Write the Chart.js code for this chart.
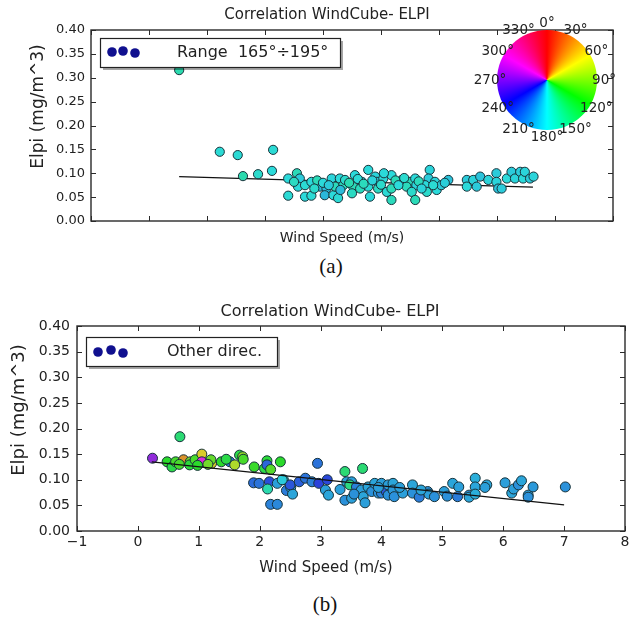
<!DOCTYPE html>
<html>
<head>
<meta charset="utf-8">
<script src="https://cdn.jsdelivr.net/npm/chart.js@4.4.0/dist/chart.umd.min.js"></script>
<style>
  html, body { margin: 0; padding: 0; background: #fff; }
  #wrap { position: relative; width: 631px; height: 619px; overflow: hidden; }
  canvas { position: absolute; left: 0; }
  #cA { top: 0; }
  #cB { top: 290px; }
  .cap { position: absolute; width: 60px; text-align: center; line-height: 24px;
         font-family: "Liberation Serif", "DejaVu Serif", serif; font-size: 21px; color: #111; }
</style>
</head>
<body>
<div id="wrap">
  <canvas id="cA" width="631" height="250"></canvas>
  <div class="cap" style="left:301px; top:254px;">(a)</div>
  <canvas id="cB" width="631" height="300"></canvas>
  <div class="cap" style="left:295px; top:592px;">(b)</div>
</div>
<script>
// ---- text ----
const titleText = 'Correlation WindCube- ELPI';
const xTitleText = 'Wind Speed (m/s)';
const yTitleText = 'Elpi (mg/m^3)';
const yTickLabels = ['0.00', '0.05', '0.10', '0.15', '0.20', '0.25', '0.30', '0.35', '0.40'];
const xTickLabels = ['\u22121', '0', '1', '2', '3', '4', '5', '6', '7', '8'];
const compassLabels = ['0°', '30°', '60°', '90°', '120°', '150°', '180°', '210°', '240°', '270°', '300°', '330°'];
const legendTextA = 'Range  165°÷195°';
const legendTextB = 'Other direc.';

// ---- panel (a): wind from 165°-195° ----
const speedA = [0.52, 1.22, 1.53, 1.62, 1.88, 2.12, 2.14, 2.40, 2.55, 2.60, 2.57, 2.69, 2.80, 2.40, 2.69, 2.80,
  2.95, 3.06, 3.03, 3.15, 3.18, 3.29, 3.21, 3.26, 3.35, 3.38, 3.52, 3.55, 3.67, 3.64, 3.78, 3.78, 3.81, 3.90,
  3.93, 3.95, 4.04, 4.10, 4.18, 4.18, 4.18, 4.84, 4.82, 4.36, 4.50, 4.59, 4.61, 4.44, 4.53, 4.59, 4.76, 4.79,
  4.93, 4.96, 5.04, 5.16, 5.48, 5.48, 5.59, 5.65, 5.71, 5.85, 5.99, 5.99, 6.02, 6.08, 6.17, 6.25, 6.31, 6.40,
  6.45, 6.48, 6.57, 6.63, 2.50, 2.90, 3.00, 3.10, 3.45, 3.60, 3.70, 3.85, 4.00, 4.25, 4.30, 4.40, 4.65, 4.70,
  4.90, 5.10, 2.85, 3.30, 3.50, 4.05];
const elpiA = [0.316, 0.145, 0.138, 0.094, 0.098, 0.105, 0.149, 0.089, 0.100, 0.089, 0.072, 0.075, 0.082, 0.053, 0.051, 0.053,
  0.072, 0.068, 0.054, 0.089, 0.054, 0.089, 0.072, 0.048, 0.075, 0.086, 0.072, 0.096, 0.082, 0.068, 0.107, 0.072, 0.051, 0.093,
  0.082, 0.068, 0.089, 0.061, 0.096, 0.068, 0.044, 0.107, 0.089, 0.086, 0.082, 0.089, 0.075, 0.072, 0.061, 0.044, 0.075, 0.061,
  0.082, 0.065, 0.075, 0.086, 0.086, 0.072, 0.086, 0.072, 0.093, 0.086, 0.100, 0.082, 0.068, 0.068, 0.089, 0.103, 0.089, 0.103,
  0.089, 0.103, 0.089, 0.093, 0.082, 0.085, 0.080, 0.075, 0.080, 0.088, 0.078, 0.085, 0.076, 0.085, 0.075, 0.090, 0.083, 0.068,
  0.075, 0.080, 0.068, 0.065, 0.058, 0.100];
const dirA = [165, 178, 178, 165, 175, 180, 178, 180, 168, 185, 180, 178, 180, 178, 180, 178,
  192, 190, 192, 182, 180, 180, 170, 178, 168, 175, 168, 180, 182, 170, 180, 178, 180, 182,
  185, 172, 180, 178, 180, 168, 170, 182, 185, 175, 168, 180, 182, 170, 175, 168, 180, 175,
  182, 180, 185, 188, 185, 180, 182, 185, 188, 182, 185, 182, 188, 185, 180, 185, 182, 185,
  180, 182, 185, 182, 172, 168, 180, 185, 166, 178, 170, 182, 175, 168, 180, 176, 170, 182,
  178, 184, 175, 190, 172, 180];
const fitSpeedA = [0.52, 6.62];
const fitElpiA = [0.093, 0.071];

// ---- panel (b): all other directions ----
const speedB = [0.24, 0.69, 0.48, 0.56, 0.62, 0.75, 0.86, 0.85, 0.94, 1.05, 1.05, 1.21, 1.20, 1.37, 1.51, 1.59,
  1.67, 1.72, 1.73, 1.91, 2.08, 2.12, 2.12, 2.18, 2.34, 1.90, 1.99, 2.16, 2.13, 2.29, 2.39, 2.44, 2.51, 2.54,
  2.50, 2.18, 2.29, 2.65, 2.75, 2.86, 2.95, 2.97, 3.11, 3.08, 3.13, 3.32, 3.40, 3.69, 3.43, 3.51, 3.48, 3.40,
  3.51, 3.59, 3.67, 3.70, 3.73, 3.78, 3.84, 3.89, 3.95, 4.00, 4.00, 4.08, 4.11, 4.11, 4.19, 4.19, 4.21, 4.35,
  4.51, 4.51, 4.62, 4.76, 4.78, 4.87, 5.03, 5.08, 5.17, 5.27, 5.25, 5.44, 5.44, 5.54, 5.54, 5.54, 5.73, 5.70,
  6.03, 6.14, 6.17, 6.25, 6.30, 6.41, 6.49, 6.41, 7.02, 3.55, 3.95, 4.30, 4.65, 0.98, 1.15, 0.68, 1.45, 2.37];
const elpiB = [0.142, 0.184, 0.135, 0.125, 0.135, 0.139, 0.135, 0.129, 0.139, 0.150, 0.135, 0.132, 0.139, 0.135, 0.135, 0.129,
  0.148, 0.145, 0.140, 0.125, 0.122, 0.137, 0.129, 0.120, 0.135, 0.094, 0.093, 0.096, 0.082, 0.093, 0.100, 0.079, 0.085, 0.072,
  0.090, 0.052, 0.052, 0.096, 0.103, 0.096, 0.132, 0.093, 0.100, 0.080, 0.070, 0.081, 0.116, 0.122, 0.096, 0.096, 0.090, 0.060,
  0.064, 0.086, 0.080, 0.067, 0.055, 0.086, 0.077, 0.093, 0.074, 0.093, 0.074, 0.077, 0.090, 0.070, 0.093, 0.080, 0.067, 0.074,
  0.090, 0.074, 0.066, 0.077, 0.072, 0.067, 0.077, 0.068, 0.093, 0.086, 0.067, 0.070, 0.066, 0.103, 0.086, 0.072, 0.090, 0.085,
  0.094, 0.074, 0.082, 0.090, 0.098, 0.070, 0.086, 0.066, 0.086, 0.072, 0.085, 0.085, 0.080, 0.128, 0.130, 0.130, 0.140, 0.100];
const dirB = [275, 145, 120, 130, 110, 35, 95, 125, 110, 55, 300, 55, 100, 120, 212, 75,
  130, 85, 110, 115, 130, 125, 220, 105, 120, 218, 215, 228, 165, 200, 190, 212, 198, 198,
  225, 210, 208, 222, 215, 210, 215, 232, 230, 200, 198, 200, 145, 145, 198, 200, 150, 205,
  200, 210, 200, 198, 200, 198, 205, 198, 205, 200, 210, 225, 200, 205, 198, 202, 205, 200,
  198, 205, 212, 205, 200, 205, 200, 205, 198, 200, 212, 205, 198, 195, 198, 195, 198, 200,
  200, 198, 200, 205, 198, 200, 202, 205, 205, 205, 200, 200, 198, 120, 95, 110, 130, 185];
const fitSpeedB = [0.23, 7.0];
const fitElpiB = [0.135, 0.051];

// ---- helpers ----
const FONT = '"DejaVu Sans", "Liberation Sans", sans-serif';
const dirColor = d => `hsl(${d}, 70%, 51%)`;
const toPoints = (xs, ys) => xs.map((x, i) => ({ x, y: ys[i] }));

// frame, inward ticks, titles, compass wheel and legend box
const panelPlugin = {
  id: 'panel',
  afterDraw(chart, args, o) {
    const ctx = chart.ctx, a = chart.chartArea;
    const xs = chart.scales.x, ys = chart.scales.y;
    ctx.save();

    // axes frame
    ctx.strokeStyle = '#2a2a2a';
    ctx.lineWidth = 1.4;
    ctx.strokeRect(a.left, a.top, a.right - a.left, a.bottom - a.top);
    ctx.beginPath();
    xs.ticks.forEach(t => {
      const p = Math.round(xs.getPixelForValue(t.value)) + 0.5;
      ctx.moveTo(p, a.bottom); ctx.lineTo(p, a.bottom - 5);
      ctx.moveTo(p, a.top); ctx.lineTo(p, a.top + 5);
    });
    ys.ticks.forEach(t => {
      const p = Math.round(ys.getPixelForValue(t.value)) + 0.5;
      ctx.moveTo(a.left, p); ctx.lineTo(a.left + 5, p);
      ctx.moveTo(a.right, p); ctx.lineTo(a.right - 5, p);
    });
    ctx.lineWidth = 1;
    ctx.stroke();

    // compass colour wheel
    if (o.wheel) {
      const w = o.wheel;
      const cx = a.right + w.dx, cy = a.top + w.dy;
      if (ctx.createConicGradient) {
        const g = ctx.createConicGradient(-Math.PI / 2, cx, cy);
        for (let h = 0; h <= 360; h += 10) g.addColorStop(h / 360, `hsl(${h}, 100%, 50%)`);
        ctx.fillStyle = g;
        ctx.beginPath(); ctx.arc(cx, cy, w.r, 0, 2 * Math.PI); ctx.fill();
      } else {
        for (let h = 0; h < 360; h++) {
          const s = (h - 90.6) * Math.PI / 180, e = (h - 88.4) * Math.PI / 180;
          ctx.fillStyle = `hsl(${h}, 100%, 50%)`;
          ctx.beginPath(); ctx.moveTo(cx, cy); ctx.arc(cx, cy, w.r, s, e); ctx.closePath(); ctx.fill();
        }
      }
      ctx.fillStyle = '#222';
      ctx.font = `13.5px ${FONT}`;
      ctx.textAlign = 'center';
      ctx.textBaseline = 'middle';
      compassLabels.forEach((t, i) => {
        const ang = (i * 30 - 90) * Math.PI / 180;
        ctx.fillText(t, cx + w.lr * Math.cos(ang), cy + w.lr * Math.sin(ang));
      });
    }

    // titles
    ctx.fillStyle = '#222';
    ctx.textAlign = 'center';
    ctx.textBaseline = 'middle';
    ctx.font = `${o.title.size}px ${FONT}`;
    ctx.fillText(titleText, o.title.x, o.title.y);
    ctx.font = `${o.xTitle.size}px ${FONT}`;
    ctx.fillText(xTitleText, o.xTitle.x, o.xTitle.y);
    ctx.save();
    ctx.translate(o.yTitle.x, o.yTitle.y);
    ctx.rotate(-Math.PI / 2);
    ctx.font = `${o.yTitle.size}px ${FONT}`;
    ctx.fillText(yTitleText, 0, 0);
    ctx.restore();

    // legend box with three scatter markers
    const L = o.legend;
    const bx = a.left + L.dx, by = a.top + L.dy;
    ctx.fillStyle = 'rgba(0,0,0,0.35)';
    ctx.fillRect(bx + 3, by + 3, L.w, L.h);
    ctx.fillStyle = '#fff';
    ctx.fillRect(bx, by, L.w, L.h);
    ctx.strokeStyle = '#222';
    ctx.lineWidth = 1.2;
    ctx.strokeRect(bx + 0.5, by + 0.5, L.w, L.h);
    ctx.fillStyle = '#10108f';
    L.dots.forEach(([dx, dy]) => {
      ctx.beginPath(); ctx.arc(bx + dx, by + dy, 4.8, 0, 2 * Math.PI); ctx.fill();
    });
    ctx.fillStyle = '#222';
    ctx.font = `16px ${FONT}`;
    ctx.textAlign = 'left';
    ctx.fillText(L.text, bx + L.tx, by + L.h / 2 + 0.5);

    ctx.restore();
  }
};

function makeChart(id, cfg) {
  const scatter = {
    type: 'scatter',
    data: toPoints(cfg.speed, cfg.elpi),
    pointRadius: cfg.radius,
    pointHoverRadius: cfg.radius,
    pointBackgroundColor: cfg.dir.map(dirColor),
    pointBorderColor: '#17323a',
    pointBorderWidth: 1,
    order: cfg.lineOnTop ? 1 : 0
  };
  const fit = {
    type: 'line',
    data: toPoints(cfg.fitSpeed, cfg.fitElpi),
    borderColor: '#111',
    borderWidth: 1.3,
    pointRadius: 0,
    fill: false,
    order: cfg.lineOnTop ? 0 : 1
  };
  return new Chart(document.getElementById(id), {
    type: 'scatter',
    data: { datasets: [scatter, fit] },
    options: {
      responsive: false,
      animation: false,
      devicePixelRatio: 1,
      layout: { padding: { left: 0, right: cfg.padRight, top: cfg.padTop, bottom: 0 } },
      plugins: {
        legend: { display: false },
        tooltip: { enabled: false },
        title: { display: false },
        panel: cfg.panel
      },
      scales: {
        x: {
          type: 'linear', min: -1, max: 8,
          ticks: {
            stepSize: 1,
            display: cfg.xLabels,
            callback: (v, i) => xTickLabels[i],
            font: { family: FONT, size: cfg.tickSize },
            color: '#222',
            padding: 3,
            maxRotation: 0,
            autoSkip: false
          },
          grid: { display: false, drawTicks: false },
          border: { display: false },
          afterFit(s) { s.height = cfg.xHeight; s.paddingLeft = 0; s.paddingRight = 0; }
        },
        y: {
          type: 'linear', min: 0, max: 0.4,
          ticks: {
            stepSize: 0.05,
            callback: (v, i) => yTickLabels[i],
            font: { family: FONT, size: cfg.tickSize },
            color: '#222',
            padding: cfg.yPad,
            autoSkip: false
          },
          grid: { display: false, drawTicks: false },
          border: { display: false },
          afterFit(s) { s.width = cfg.yWidth; s.paddingTop = 0; s.paddingBottom = 0; }
        }
      }
    },
    plugins: [panelPlugin]
  });
}

makeChart('cA', {
  speed: speedA, elpi: elpiA, dir: dirA, fitSpeed: fitSpeedA, fitElpi: fitElpiA,
  radius: 4.6, lineOnTop: false, padRight: 18, padTop: 30, xHeight: 29, yWidth: 91, yPad: 6,
  tickSize: 13, xLabels: false,
  panel: {
    title: { x: 327, y: 15, size: 15 },
    xTitle: { x: 342, y: 238, size: 14 },
    yTitle: { x: 38.5, y: 106.5, size: 17 },
    wheel: { dx: -66, dy: 50, r: 50, lr: 57 },
    legend: { dx: 9, dy: 8, w: 240, h: 29, tx: 77, text: legendTextA, dots: [[12, 14], [23, 13], [35, 15]] }
  }
});

makeChart('cB', {
  speed: speedB, elpi: elpiB, dir: dirB, fitSpeed: fitSpeedB, fitElpi: fitElpiB,
  radius: 5, lineOnTop: true, padRight: 1, padTop: 36, xHeight: 59, yWidth: 77, yPad: 7,
  tickSize: 14, xLabels: true,
  panel: {
    title: { x: 330, y: 22, size: 16 },
    xTitle: { x: 326, y: 278, size: 15 },
    yTitle: { x: 19.5, y: 120, size: 18 },
    legend: { dx: 9, dy: 11, w: 191, h: 29, tx: 81, text: legendTextB, dots: [[12, 15], [25, 13], [37, 16]] }
  }
});
</script>
</body>
</html>
